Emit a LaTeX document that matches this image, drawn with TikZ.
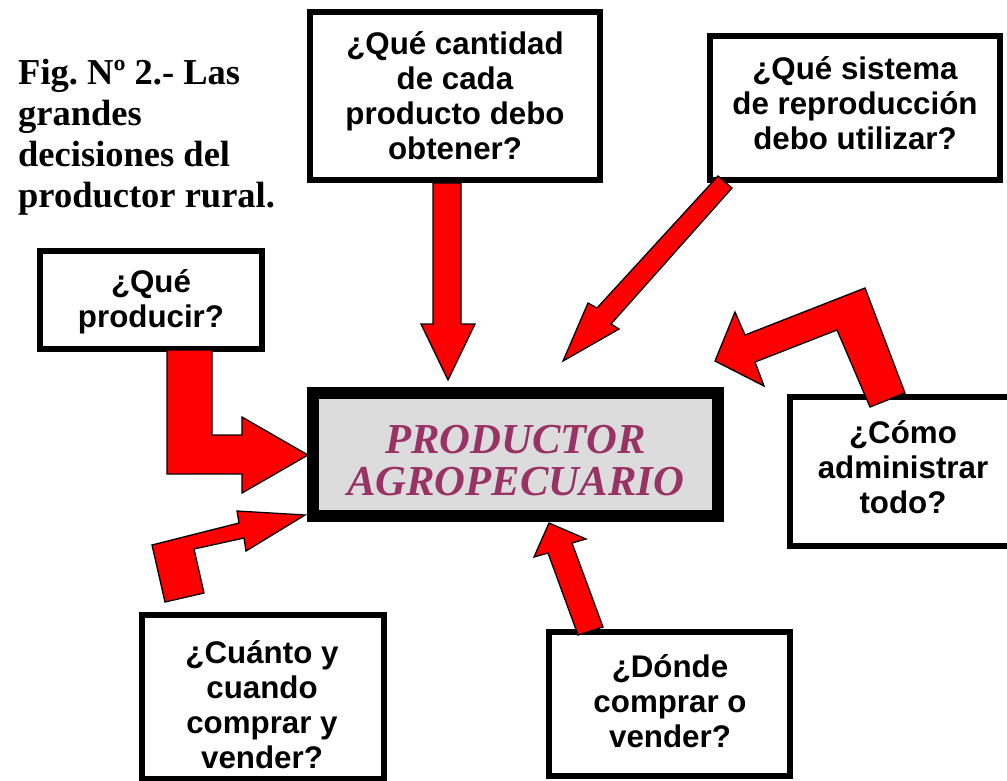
\documentclass[tikz,border=0pt]{standalone}
\usepackage{fontspec}
\newfontfamily\qfont{Liberation Sans}
\newfontfamily\tfont{Liberation Serif}
\definecolor{prodpurple}{HTML}{993366}
\definecolor{prodgray}{HTML}{DCDCDC}
\definecolor{arrowred}{HTML}{FF0000}
\begin{document}
\begin{tikzpicture}[x=1pt,y=-1pt,
  qbox/.style={draw=black, line width=6pt, fill=white, inner sep=0pt},
  qtext/.style={font=\qfont\bfseries\fontsize{31.3}{35}\selectfont, align=center, inner sep=0pt},
  titletext/.style={font=\tfont\bfseries\fontsize{36.5}{41}\selectfont, align=left, inner sep=0pt},
  prodbox/.style={draw=black, line width=12pt, fill=prodgray, inner sep=0pt},
  prodtext/.style={font=\tfont\bfseries\itshape\fontsize{42.7}{42}\selectfont, text=prodpurple, align=center, inner sep=0pt},
  blockarrow/.style={fill=arrowred, draw=black, line width=1.3pt, line join=miter}]
\useasboundingbox (0,0) rectangle (1007,780);
\clip (0,0) rectangle (1007,780);

% title
\node[titletext, anchor=north west] (title) at (18,59) {Fig.\ Nº 2.-\ Las\\grandes\\decisiones del\\productor rural.};

% question boxes
\node[qbox, minimum width=290pt, minimum height=168pt] (b1) at (455,96) {};
\node[qtext] (t1) at (455,96) {¿Qué cantidad\\de cada\\producto debo\\obtener?};

\node[qbox, minimum width=290pt, minimum height=144pt] (b2) at (855,108) {};
\node[qtext] (t2) at (855,103.5) {¿Qué sistema\\de reproducción\\debo utilizar?};

\node[qbox, minimum width=222pt, minimum height=98pt] (b3) at (151,300) {};
\node[qtext] (t3) at (151,301.5) {¿Qué\\producir?};

\node[qbox, minimum width=230pt, minimum height=149pt] (b4) at (905,471.5) {};
\node[qtext] (t4) at (903,467) {¿Cómo\\administrar\\todo?};

\node[qbox, minimum width=242pt, minimum height=164pt] (b5) at (263,697) {};
\node[qtext] (t5) at (262,705) {¿Cuánto y\\cuando\\comprar y\\vender?};

\node[qbox, minimum width=241pt, minimum height=144pt] (b6) at (669.5,704) {};
\node[qtext] (t6) at (670,701) {¿Dónde\\comprar o\\vender?};

% central box
\node[prodbox, minimum width=405pt, minimum height=123pt] (prod) at (515.5,454.5) {};
\node[prodtext] (prodt) at (515.5,461) {PRODUCTOR\\AGROPECUARIO};

% block arrows
% from b1 down
\filldraw[blockarrow] (433,183) -- (461,183) -- (461,324) -- (475,324) -- (448,380)
  -- (421,324) -- (433,324) -- cycle;
% from b2 diagonal
\filldraw[blockarrow] (718,176) -- (732,188) -- (611,324) -- (619,329) -- (563,361)
  -- (588,303) -- (597,308) -- cycle;
% from b3 L-shape
\filldraw[blockarrow] (167,350) -- (212,350) -- (212,435) -- (242,435) -- (242,417)
  -- (308,455) -- (242,493) -- (242,474) -- (167,474) -- cycle;
% from b5 L-shape
\filldraw[blockarrow] (165,602) -- (152,545) -- (239,523) -- (237,511) -- (305,515)
  -- (246,551) -- (244,538) -- (194,549) -- (204,593) -- cycle;
% from b4 L-shape
\filldraw[blockarrow] (870,407) -- (905,393) -- (865,288) -- (745,335) -- (735,312)
  -- (715,361) -- (764,386) -- (755,362) -- (837,330) -- cycle;
% from b6 up
\filldraw[blockarrow] (578,635) -- (548,553) -- (534,557) -- (549,523) -- (586,539)
  -- (572,543) -- (603,627) -- cycle;
\end{tikzpicture}
\end{document}
